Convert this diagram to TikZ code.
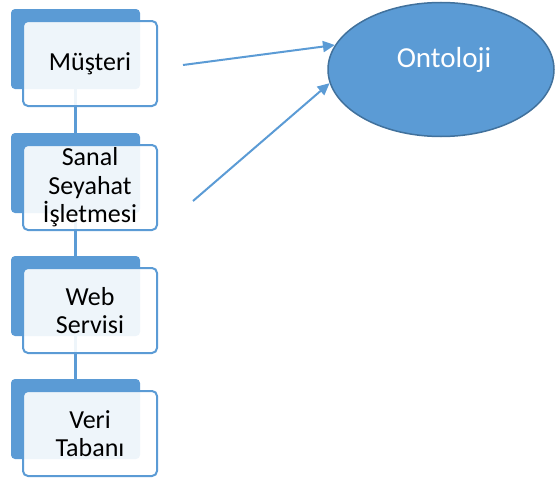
\documentclass[tikz,border=0pt]{standalone}
\usepackage{fontspec}
\setmainfont{Carlito}
\usetikzlibrary{arrows.meta,shapes.geometric}
\definecolor{accent}{HTML}{5B9BD5}
\definecolor{accentdark}{HTML}{41719C}
\tikzset{
  backcard/.style={draw=none, fill=accent, rounded corners=4pt,
    minimum width=129pt, minimum height=80pt, inner sep=0pt},
  frontcard/.style={draw=accent, line width=2pt, fill=white, fill opacity=0.9,
    text opacity=1, rounded corners=5pt, minimum width=134pt, minimum height=85pt,
    inner sep=0pt, align=center, font=\fontsize{26}{28.5}\selectfont},
  link/.style={draw=accent, line width=2.5pt},
  feed/.style={draw=accent, line width=2pt, -{Triangle[length=12pt,width=11pt]}},
}
\begin{document}
\begin{tikzpicture}[x=1pt, y=-1pt]
  \useasboundingbox (0,0) rectangle (555,479);

  % anchor points for the stack (back card centres)
  \foreach \n/\t in {1/9, 2/133, 3/256, 4/379} {
    \coordinate (c\n) at (75.5, \t+40);
  }

  % vertical links between the cards, drawn first so they sit behind
  \draw[link] (c1) -- (c2);
  \draw[link] (c2) -- (c3);
  \draw[link] (c3) -- (c4);

  % darker back cards
  \foreach \n in {1,2,3,4} {
    \node[backcard] (b\n) at (c\n) {};
  }

  % lighter front cards with the labels
  \node[frontcard] (f1) at (90, 63.5) {Müşteri};
  \node[frontcard] (f2) at (90, 187.5) {Sanal\\Seyahat\\İşletmesi};
  \node[frontcard] (f3) at (90, 310.5) {Web\\Servisi};
  \node[frontcard] (f4) at (90, 433.5) {Veri\\Tabanı};

  % ontology ellipse
  \node[ellipse, draw=accentdark, line width=1.5pt, fill=accent,
        minimum width=226pt, minimum height=134pt, inner sep=0pt] (onto) at (441, 69.5) {};
  \node[text=white, font=\fontsize{29}{32}\selectfont, inner sep=0pt] (ontolabel)
        at (444, 60) {Ontoloji};

  % arrows feeding the ontology
  \coordinate (s1) at (183, 65);
  \coordinate (s2) at (193, 201);
  \draw[feed] (s1) -- (onto.167);
  \draw[feed] (s2) -- (onto.187);
\end{tikzpicture}
\end{document}
